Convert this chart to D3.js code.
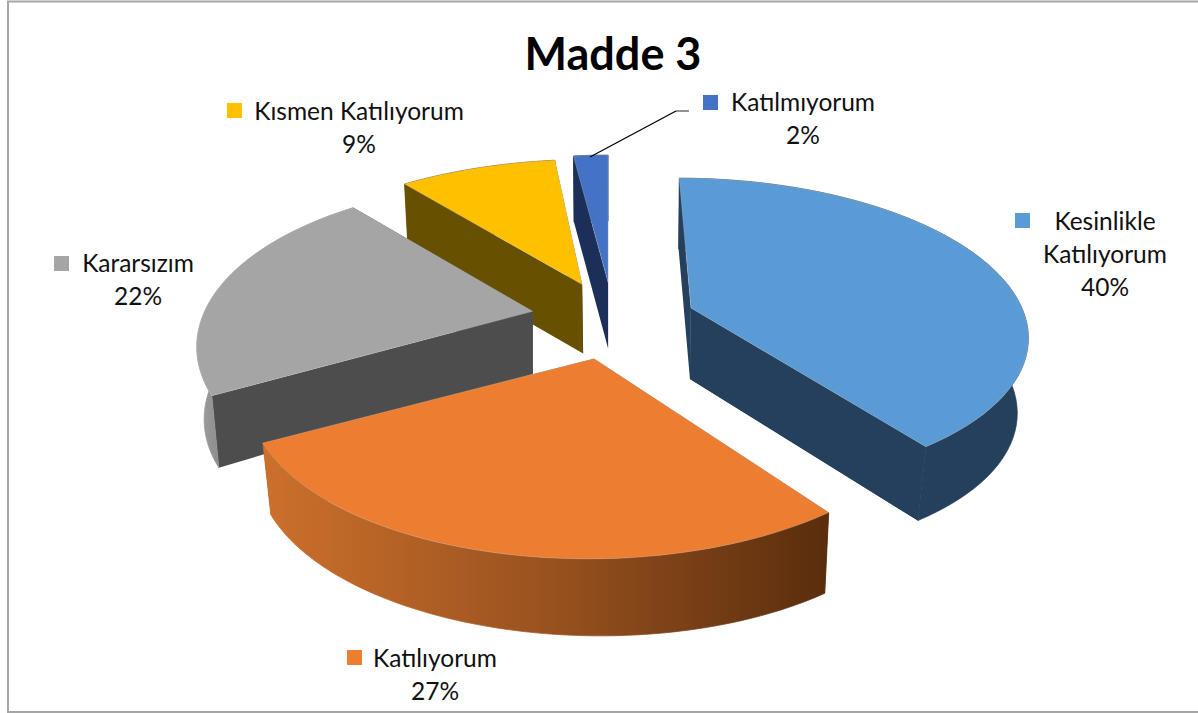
<!DOCTYPE html>
<html><head><meta charset="utf-8">
<script src="https://cdn.jsdelivr.net/npm/d3@7"></script>
<style>html,body{margin:0;padding:0;background:#fff;overflow:hidden}svg{display:block}text{font-family:Lato,"Open Sans",sans-serif;fill:#111}</style>
</head><body>
<svg id="c" width="1198" height="713"></svg>
<script>
const categories = ["Kesinlikle Katılıyorum","Katılıyorum","Kararsızım","Kısmen Katılıyorum","Katılmıyorum"];
const values = [40,27,22,9,2];
const topColors = ["#5B9BD5","#ED7D31","#A5A5A5","#FFC000","#4472C4"];
const wallColors = ["#24405C","#6B3A10","#4D4D4D","#675000","#1B2F59"];
const labelLines = [["Kesinlikle","Katılıyorum","40%"],["Katılıyorum","27%"],["Kararsızım","22%"],["Kısmen Katılıyorum","9%"],["Katılmıyorum","2%"]];
const labelAnchors = [[1105,230],[435,667],[138,272],[359,120],[803,111]];
const markerBoxes = [[1015,213],[347,650],[54,256],[227,103],[703,95]];
const apexNudge = [[8,1],[2,6],[0,0],[4,-1],[4,0]];
const perspective = [0.155,0.216,0.216,0.216,0.216];
const radiusX = [331,336,328,336,336];
const radiusY = [150,157,157,152,155];
const skew = [0.09,-0.03,0,-0.06,0];
const wallScale = [0.97,0.979,0.978,0.985,0.985];
const wallShift = [-1,1,0,1,0];
const wallDepth = [71,77,63,69,66];
const wallSlope = [0.012,0.016,-0.028,0,0];
const drawOrder = [4,3,0,2,1];

const svg = d3.select("#c");
const cx=609, cy=318, baseRy=157, explode=0.226, explodeR=344;

const defs = svg.append("defs");
const gradOrange = defs.append("linearGradient").attr("id","wall1").attr("gradientUnits","userSpaceOnUse")
  .attr("x1",264).attr("x2",830).attr("y1",0).attr("y2",0);
[[0,"#CC702C"],[0.5,"#99521F"],[1,"#592D0D"]].forEach(s=>gradOrange.append("stop").attr("offset",s[0]).attr("stop-color",s[1]));
const gradGray = defs.append("linearGradient").attr("id","wall2").attr("gradientUnits","userSpaceOnUse")
  .attr("x1",195).attr("x2",225).attr("y1",0).attr("y2",0);
[[0,"#A2A2A2"],[1,"#878787"]].forEach(s=>gradGray.append("stop").attr("offset",s[0]).attr("stop-color",s[1]));

// chart frame
svg.append("rect").attr("x",8).attr("y",1.5).attr("width",1210).attr("height",710.5)
  .attr("fill","#fff").attr("stroke","#A6A6A6").attr("stroke-width",2);

const arcs = d3.pie().sort(null).value(d=>d).startAngle(0).endAngle(2*Math.PI)(values);
const line = d3.line();

arcs.forEach((a,i)=>{
  const mid=(a.startAngle+a.endAngle)/2;
  a.apex=[cx+explode*explodeR*Math.sin(mid)+apexNudge[i][0], cy-explode*baseRy*Math.cos(mid)+apexNudge[i][1]];
  a.local=t=>{
    const s=1/(1+perspective[i]*Math.cos(t));
    const dy=-radiusY[i]*Math.cos(t)*s;
    return [radiusX[i]*Math.sin(t)*s+skew[i]*dy,dy];
  };
  a.top=t=>{const l=a.local(t);return [a.apex[0]+l[0],a.apex[1]+l[1]];};
  a.bottomOf=l=>[a.apex[0]+wallShift[i]+l[0]*wallScale[i], a.apex[1]+l[1]+wallDepth[i]+wallSlope[i]*l[0]];
  a.bot=t=>a.bottomOf(a.local(t));
  a.angles=d3.range(0,61).map(k=>a.startAngle+(a.endAngle-a.startAngle)*k/60);
});

const order = drawOrder.map(i=>arcs[i]);
const g = svg.selectAll("g.slice").data(order).join("g").attr("class","slice");
g.each(function(a){
  const i=a.index, sel=d3.select(this), A=a.apex, B=a.bottomOf([0,0]);
  // radial cut walls
  [a.startAngle,a.endAngle].forEach(t=>{
    sel.append("path").attr("d",line([A,a.top(t),a.bot(t),B])+"Z").attr("fill",wallColors[i]);
  });
  // outer wall
  const pts=a.angles.map(a.top).concat(a.angles.slice().reverse().map(a.bot));
  const fill = i===1?"url(#wall1)":i===2?"url(#wall2)":wallColors[i];
  sel.append("path").attr("d",line(pts)+"Z").attr("fill",fill)
    .attr("stroke",fill).attr("stroke-width",0.7);
  // front cut sits above the outer wall
  if(i===2||i===0){
    const t=a.endAngle;
    sel.append("path").attr("d",line([A,a.top(t),a.bot(t),B])+"Z").attr("fill",wallColors[i]);
  }
  // top face
  const face=[A].concat(a.angles.map(a.top));
  sel.append("path").attr("d",line(face)+"Z").attr("fill",topColors[i])
    .attr("stroke","#C8C8C8").attr("stroke-opacity",0.3).attr("stroke-width",1).attr("stroke-linejoin","round");
});

// title
svg.append("text").attr("x",613).attr("y",70).attr("text-anchor","middle")
  .attr("font-size",45).attr("font-weight",700).style("fill","#000").text("Madde 3");

// leader line for the smallest slice
svg.append("path").attr("d",line([[590,157],[676,111]])).attr("fill","none").attr("stroke","#000").attr("stroke-width",1.3);
svg.append("path").attr("d",line([[676,111],[689,111]])).attr("fill","none").attr("stroke","#555").attr("stroke-width",1.3);

// labels
const labelG = svg.selectAll("g.lab").data(categories).join("g").attr("class","lab");
labelG.append("rect").attr("x",(d,i)=>markerBoxes[i][0]).attr("y",(d,i)=>markerBoxes[i][1])
  .attr("width",15).attr("height",15).attr("fill",(d,i)=>topColors[i]);
labelG.each(function(d,i){
  d3.select(this).selectAll("text").data(labelLines[i]).join("text")
    .attr("x",labelAnchors[i][0]).attr("y",(t,k)=>labelAnchors[i][1]+k*33)
    .attr("text-anchor","middle").attr("font-size",24.5).text(t=>t);
});
</script>
</body></html>
